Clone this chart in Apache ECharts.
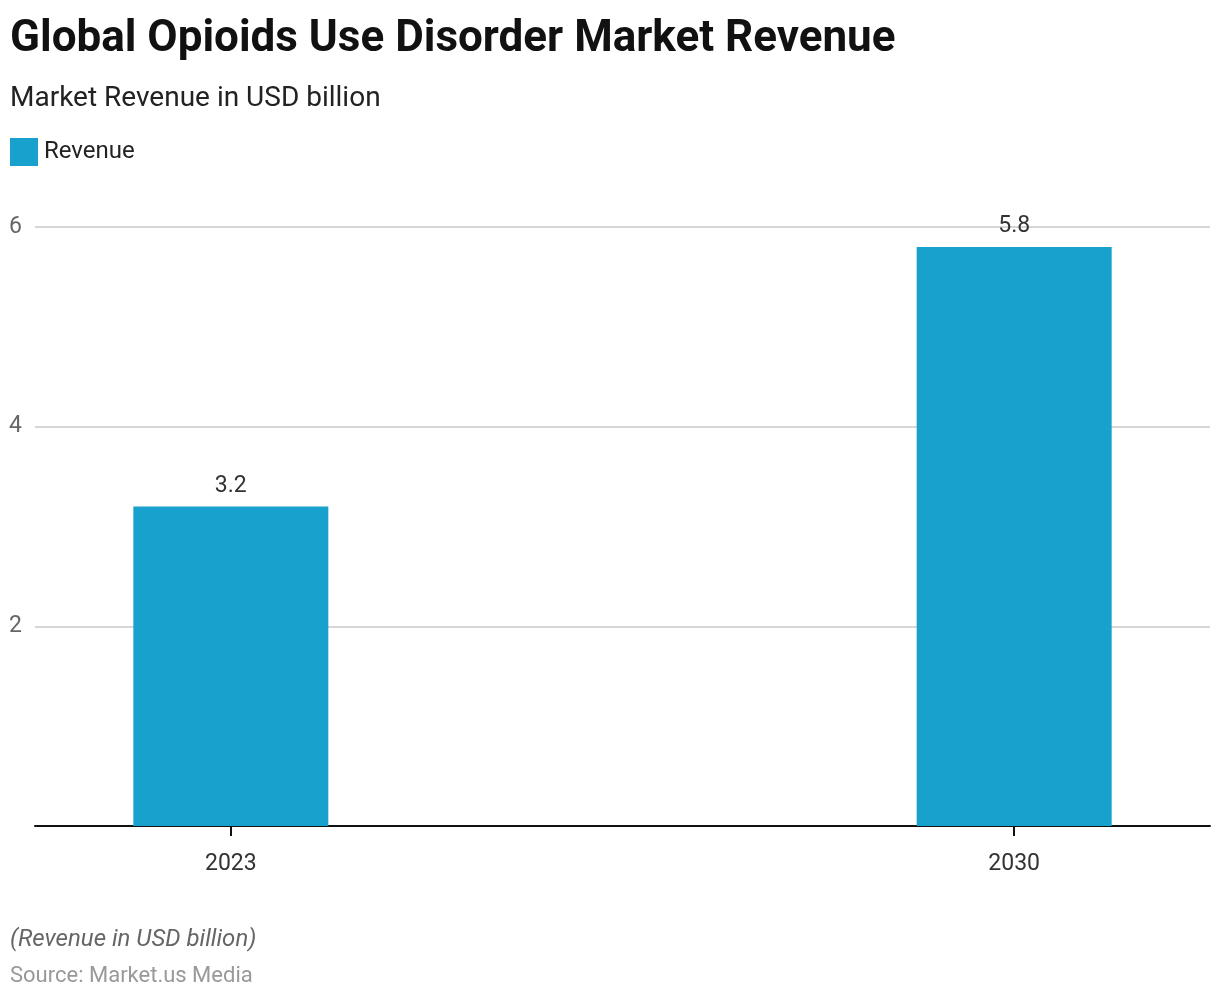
<!DOCTYPE html>
<html>
<head>
<meta charset="utf-8">
<script src="https://cdn.jsdelivr.net/npm/echarts@6/dist/echarts.min.js"></script>
<style>html,body{margin:0;padding:0;background:#fff}#c{width:1220px;height:998px}</style>
</head>
<body>
<div id="c"></div>
<script>
const years = [2023, 2030];
const revenue = [3.2, 5.8];
const yTicks = [0, 2, 4, 6];

const chart = echarts.init(document.getElementById('c'));
chart.setOption({
  animation: false,
  backgroundColor: '#fff',
  textStyle: { fontFamily: 'Roboto' },
  title: [
    { text: 'Global Opioids Use Disorder Market Revenue', left: 10, top: 18, padding: 0,
      textStyle: { fontFamily: 'Roboto', fontSize: 44, fontWeight: 'bold', color: '#111' } },
    { text: 'Market Revenue in USD billion', left: 10, top: 85, padding: 0,
      textStyle: { fontFamily: 'Roboto', fontSize: 28, fontWeight: 'normal', color: '#222' } },
    { text: '(Revenue in USD billion)', left: 10, top: 928, padding: 0,
      textStyle: { fontFamily: 'Roboto', fontSize: 24, fontStyle: 'italic', fontWeight: 'normal', color: '#666' } },
    { text: 'Source: Market.us Media', left: 10, top: 965, padding: 0,
      textStyle: { fontFamily: 'Roboto', fontSize: 22, fontWeight: 'normal', color: '#999' } }
  ],
  legend: {
    left: 10, top: 138, padding: 0, itemWidth: 28, itemHeight: 28, itemGap: 20,
    icon: 'rect',
    data: ['Revenue'],
    textStyle: { fontFamily: 'Roboto', fontSize: 24, color: '#222', padding: [0, 0, 0, 1] }
  },
  grid: { left: 35, right: 10, top: 227, bottom: 172, containLabel: false },
  xAxis: {
    type: 'value',
    min: 2021.25, max: 2031.75,
    splitLine: { show: false },
    axisLine: { show: true, lineStyle: { color: '#111', width: 2 } },
    axisTick: { show: true, customValues: years, length: 10, lineStyle: { color: '#111', width: 2 } },
    axisLabel: { customValues: years, margin: 27, fontSize: 23, color: '#333', fontFamily: 'Roboto',
      formatter: v => String(v) }
  },
  yAxis: {
    type: 'value', min: 0, max: 6, interval: 2,
    axisLine: { show: false }, axisTick: { show: false },
    splitLine: { lineStyle: { color: '#d6d6d6', width: 2 } },
    axisLabel: { margin: 13, fontSize: 23, color: '#666', fontFamily: 'Roboto',
      formatter: v => (v === 0 ? '' : String(v)) }
  },
  series: [{
    name: 'Revenue', type: 'bar', barWidth: 195,
    itemStyle: { color: '#18a1cd' },
    label: { show: true, position: 'top', distance: 9, fontSize: 23, color: '#333', fontFamily: 'Roboto',
      formatter: p => p.value[1].toFixed(1) },
    data: years.map((y, i) => [y, revenue[i]])
  }]
});
</script>
</body>
</html>
